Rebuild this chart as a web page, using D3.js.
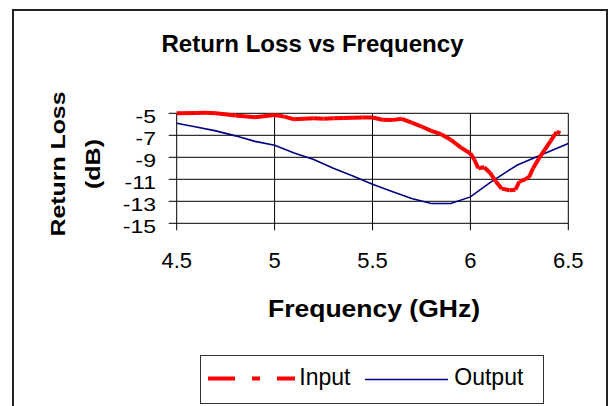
<!DOCTYPE html>
<html>
<head>
<meta charset="utf-8">
<script src="https://cdn.jsdelivr.net/npm/d3@7"></script>
<style>
  body { margin: 0; background: #fff; }
  svg { display: block; font-family: "Liberation Sans", Arial, sans-serif; }
</style>
</head>
<body>
<div id="chart"></div>
<script>
// data
const inputFreq = [4.5, 4.6, 4.65, 4.7, 4.8, 4.9, 5.0, 5.05, 5.1, 5.15, 5.2, 5.25, 5.3, 5.35, 5.4, 5.45, 5.5, 5.55, 5.6, 5.65, 5.7, 5.75, 5.8, 5.85, 5.9, 5.95, 6.0, 6.02, 6.04, 6.07, 6.1, 6.13, 6.16, 6.2, 6.23, 6.25, 6.28, 6.3, 6.32, 6.35, 6.38, 6.41, 6.44, 6.46];
const inputLoss = [-5.0, -4.98, -4.95, -5.0, -5.2, -5.35, -5.15, -5.3, -5.55, -5.5, -5.45, -5.5, -5.45, -5.42, -5.4, -5.38, -5.38, -5.58, -5.62, -5.5, -5.85, -6.2, -6.6, -6.9, -7.4, -8.1, -8.65, -9.2, -10.0, -9.9, -10.4, -11.2, -11.85, -12.0, -11.95, -11.2, -11.0, -10.8, -10.0, -9.1, -8.3, -7.5, -6.7, -6.8];

const outputFreq = [4.5, 4.6, 4.7, 4.8, 4.9, 5.0, 5.1, 5.2, 5.3, 5.4, 5.5, 5.6, 5.7, 5.8, 5.9, 6.0, 6.1, 6.2, 6.24, 6.3, 6.4, 6.5];
const outputLoss = [-5.9, -6.25, -6.6, -7.05, -7.55, -7.9, -8.6, -9.2, -10.0, -10.7, -11.45, -12.1, -12.75, -13.2, -13.2, -12.6, -11.3, -10.15, -9.7, -9.25, -8.5, -7.75];

const xTicks = [4.5, 5, 5.5, 6, 6.5];
const yTicks = [-5, -7, -9, -11, -13, -15];
const seriesNames = ["Input", "Output"];

const width = 612, height = 406;
const redDash = "27,17,8,17";

const svg = d3.select("#chart").append("svg")
    .attr("width", width)
    .attr("height", height);

// outer chart frame (bottom edge falls outside the picture)
svg.append("path")
    .attr("d", "M13,420 V10 H607 V420")
    .attr("fill", "none")
    .attr("stroke", "#222")
    .attr("stroke-width", 2);

const x = d3.scaleLinear().domain([4.5, 6.5]).range([176.7, 568.3]);
const y = d3.scaleLinear().domain([-15, -5]).range([223.3, 113.3]);

// gridlines
svg.append("g")
    .selectAll("line.h")
    .data(yTicks)
    .enter().append("line")
    .attr("x1", x(4.5) - 8)
    .attr("x2", x(6.5))
    .attr("y1", d => y(d))
    .attr("y2", d => y(d))
    .attr("stroke", "#000")
    .attr("stroke-width", 1);

svg.append("g")
    .selectAll("line.v")
    .data(xTicks)
    .enter().append("line")
    .attr("x1", d => x(d))
    .attr("x2", d => x(d))
    .attr("y1", y(-5))
    .attr("y2", y(-15) + 7)
    .attr("stroke", "#000")
    .attr("stroke-width", 1);

// y tick labels (squashed vertically like the original)
svg.append("g")
    .selectAll("text")
    .data(yTicks)
    .enter().append("text")
    .attr("transform", d => `translate(156,${y(d) + 9.4}) scale(1,0.8)`)
    .attr("text-anchor", "end")
    .attr("font-size", 23)
    .text(d => d);

// x tick labels
svg.append("g")
    .selectAll("text")
    .data(xTicks)
    .enter().append("text")
    .attr("x", d => x(d))
    .attr("y", 268)
    .attr("text-anchor", "middle")
    .attr("font-size", 22)
    .text(d => d);

// output line
const outData = outputFreq.map((f, i) => [f, outputLoss[i]]);
svg.append("path")
    .datum(outData)
    .attr("fill", "none")
    .attr("stroke", "#000080")
    .attr("stroke-width", 1.6)
    .attr("d", d3.line().x(d => x(d[0])).y(d => y(d[1])));

// input line: each segment restarts the dash pattern, like Excel does
const inData = inputFreq.map((f, i) => [f, inputLoss[i]]);
svg.append("g")
    .selectAll("line")
    .data(d3.pairs(inData))
    .enter().append("line")
    .attr("x1", d => x(d[0][0]))
    .attr("y1", d => y(d[0][1]))
    .attr("x2", d => x(d[1][0]))
    .attr("y2", d => y(d[1][1]))
    .attr("stroke", "#ff0000")
    .attr("stroke-width", 4)
    .attr("stroke-dasharray", redDash);

// titles
svg.append("text")
    .attr("x", 312.5)
    .attr("y", 51.7)
    .attr("text-anchor", "middle")
    .attr("font-size", 23)
    .attr("font-weight", "bold")
    .attr("textLength", 302)
    .attr("lengthAdjust", "spacingAndGlyphs")
    .text("Return Loss vs Frequency");

svg.append("text")
    .attr("x", 374)
    .attr("y", 316.7)
    .attr("text-anchor", "middle")
    .attr("font-size", 23)
    .attr("font-weight", "bold")
    .attr("textLength", 212)
    .attr("lengthAdjust", "spacingAndGlyphs")
    .text("Frequency (GHz)");

svg.append("text")
    .attr("transform", "translate(65,164) rotate(-90)")
    .attr("text-anchor", "middle")
    .attr("font-size", 21)
    .attr("font-weight", "bold")
    .attr("textLength", 145)
    .attr("lengthAdjust", "spacingAndGlyphs")
    .text("Return Loss");

svg.append("text")
    .attr("transform", "translate(100,164) rotate(-90)")
    .attr("text-anchor", "middle")
    .attr("font-size", 21)
    .attr("font-weight", "bold")
    .attr("textLength", 50)
    .attr("lengthAdjust", "spacingAndGlyphs")
    .text("(dB)");

// legend
const legend = svg.append("g");
legend.append("rect")
    .attr("x", 200.5)
    .attr("y", 355.5)
    .attr("width", 343)
    .attr("height", 48)
    .attr("fill", "#fff")
    .attr("stroke", "#333")
    .attr("stroke-width", 1);

legend.append("line")
    .attr("x1", 208).attr("x2", 295)
    .attr("y1", 378.5).attr("y2", 378.5)
    .attr("stroke", "#ff0000")
    .attr("stroke-width", 4)
    .attr("stroke-dasharray", redDash);

legend.append("line")
    .attr("x1", 365).attr("x2", 448)
    .attr("y1", 379.5).attr("y2", 379.5)
    .attr("stroke", "#000080")
    .attr("stroke-width", 1.6);

legend.selectAll("text")
    .data(seriesNames)
    .enter().append("text")
    .attr("x", (d, i) => i === 0 ? 299.3 : 454.3)
    .attr("y", 385)
    .attr("font-size", 23)
    .text(d => d);
</script>
</body>
</html>
